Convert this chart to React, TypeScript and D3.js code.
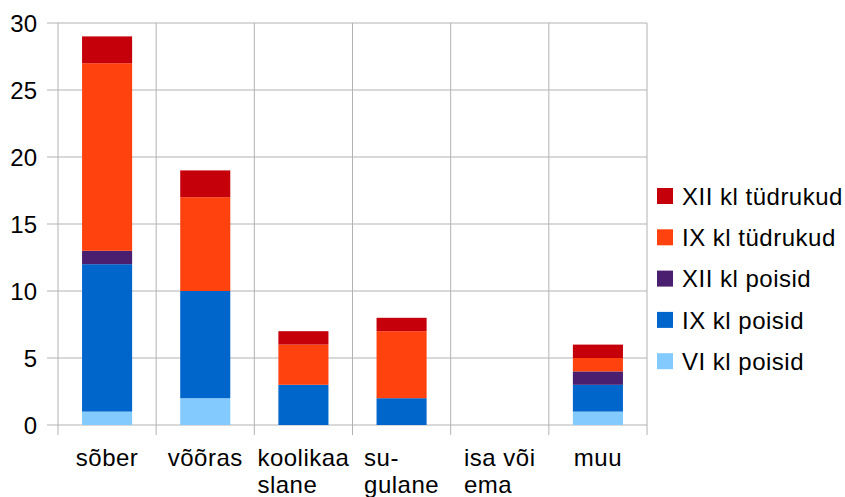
import React from 'react';
import * as d3 from 'd3';

// kategooriad (mitmerealised sildid)
const categories = ['sõber', 'võõras', 'koolikaa slane', 'su-gulane', 'isa või ema', 'muu'];
const categoryLines = [['sõber'], ['võõras'], ['koolikaa', 'slane'], ['su-', 'gulane'], ['isa või', 'ema'], ['muu']];

// seeriad alt üles
const seriesNames = ['VI kl poisid', 'IX kl poisid', 'XII kl poisid', 'IX kl tüdrukud', 'XII kl tüdrukud'];
const seriesColors = ['#83caff', '#0066cc', '#4b1f6f', '#ff420e', '#c5000b'];

const viPoisid = [1, 2, 0, 0, 0, 1];
const ixPoisid = [11, 8, 3, 2, 0, 2];
const xiiPoisid = [1, 0, 0, 0, 0, 1];
const ixTudrukud = [14, 7, 3, 5, 0, 1];
const xiiTudrukud = [2, 2, 1, 1, 0, 1];

const yTicks = [0, 5, 10, 15, 20, 25, 30];

const W = 845;
const H = 497;
const FONT = '"Liberation Sans", Arial, sans-serif';
const FS = 24;
const LS = 0.5;

// teksti laiuse mõõtmine mitmerealiste siltide joondamiseks
const measure = (() => {
  const ctx = document.createElement('canvas').getContext('2d');
  return (s: string) => {
    if (!ctx) return s.length * FS * 0.5;
    ctx.font = `${FS}px "Liberation Sans"`;
    return ctx.measureText(s).width + s.length * LS;
  };
})();

export default function App() {
  const margin = { left: 58, right: 198, top: 23, bottom: 72 };
  const plotW = W - margin.left - margin.right;
  const plotH = H - margin.top - margin.bottom;

  const x = d3.scaleBand().domain(categories).range([0, plotW]).paddingInner(0).paddingOuter(0);
  const y = d3.scaleLinear().domain([0, 30]).range([plotH, 0]);

  const table = categories.map((c, i) => ({
    cat: c,
    s0: viPoisid[i],
    s1: ixPoisid[i],
    s2: xiiPoisid[i],
    s3: ixTudrukud[i],
    s4: xiiTudrukud[i],
  }));
  const stack = d3.stack<any>().keys(['s0', 's1', 's2', 's3', 's4']);
  const layers = stack(table);

  const barW = x.bandwidth() * 0.51;
  const grid = '#b3b3b3';

  return (
    <svg width={W} height={H} style={{ position: 'absolute', left: 0, top: 0, background: '#fff' }}>
      <g transform={`translate(${margin.left},${margin.top})`} fontFamily={FONT}>
        {/* horisontaalsed jooned */}
        {yTicks.map((t) => (
          <g key={t}>
            <line x1={-11} x2={plotW} y1={y(t)} y2={y(t)} stroke={grid} strokeWidth={1} />
            <text x={-21} y={y(t)} dy="0.36em" textAnchor="end" fontSize={FS} fill="#000">
              {t}
            </text>
          </g>
        ))}
        {/* vertikaalsed jooned */}
        {categories.map((c) => (
          <line key={c} x1={x(c)!} x2={x(c)!} y1={0} y2={plotH + 10} stroke={grid} strokeWidth={1} />
        ))}
        <line x1={plotW} x2={plotW} y1={0} y2={plotH + 10} stroke={grid} strokeWidth={1} />

        {/* tulbad */}
        {layers.map((layer, li) =>
          layer.map((d, i) => {
            const h = y(d[0]) - y(d[1]);
            if (h <= 0) return null;
            const cx = x(categories[i])! + x.bandwidth() / 2;
            return (
              <rect
                key={`${li}-${i}`}
                x={cx - barW / 2}
                y={y(d[1])}
                width={barW}
                height={h}
                fill={seriesColors[li]}
              />
            );
          }),
        )}

        {/* x-telje sildid */}
        {categories.map((c, i) => {
          const cx = x(c)! + x.bandwidth() / 2;
          const lines = categoryLines[i];
          const maxW = Math.max(...lines.map(measure));
          const left = cx - maxW / 2;
          return (
            <text key={c} y={plotH + 41} fontSize={FS} letterSpacing={LS} fill="#000">
              {lines.map((l, k) => (
                <tspan key={k} x={lines.length > 1 ? left : cx - measure(l) / 2} dy={k === 0 ? 0 : 27}>
                  {l}
                </tspan>
              ))}
            </text>
          );
        })}
      </g>

      {/* legend */}
      <g fontFamily={FONT}>
        {seriesNames
          .map((n, i) => ({ n, c: seriesColors[i] }))
          .reverse()
          .map((s, i) => {
            const cy = 196 + i * 41.3;
            return (
              <g key={s.n}>
                <rect x={657} y={cy - 8} width={16} height={16} fill={s.c} />
                <text x={682} y={cy} dy="0.36em" fontSize={FS} letterSpacing={LS} fill="#000">
                  {s.n}
                </text>
              </g>
            );
          })}
      </g>
    </svg>
  );
}
